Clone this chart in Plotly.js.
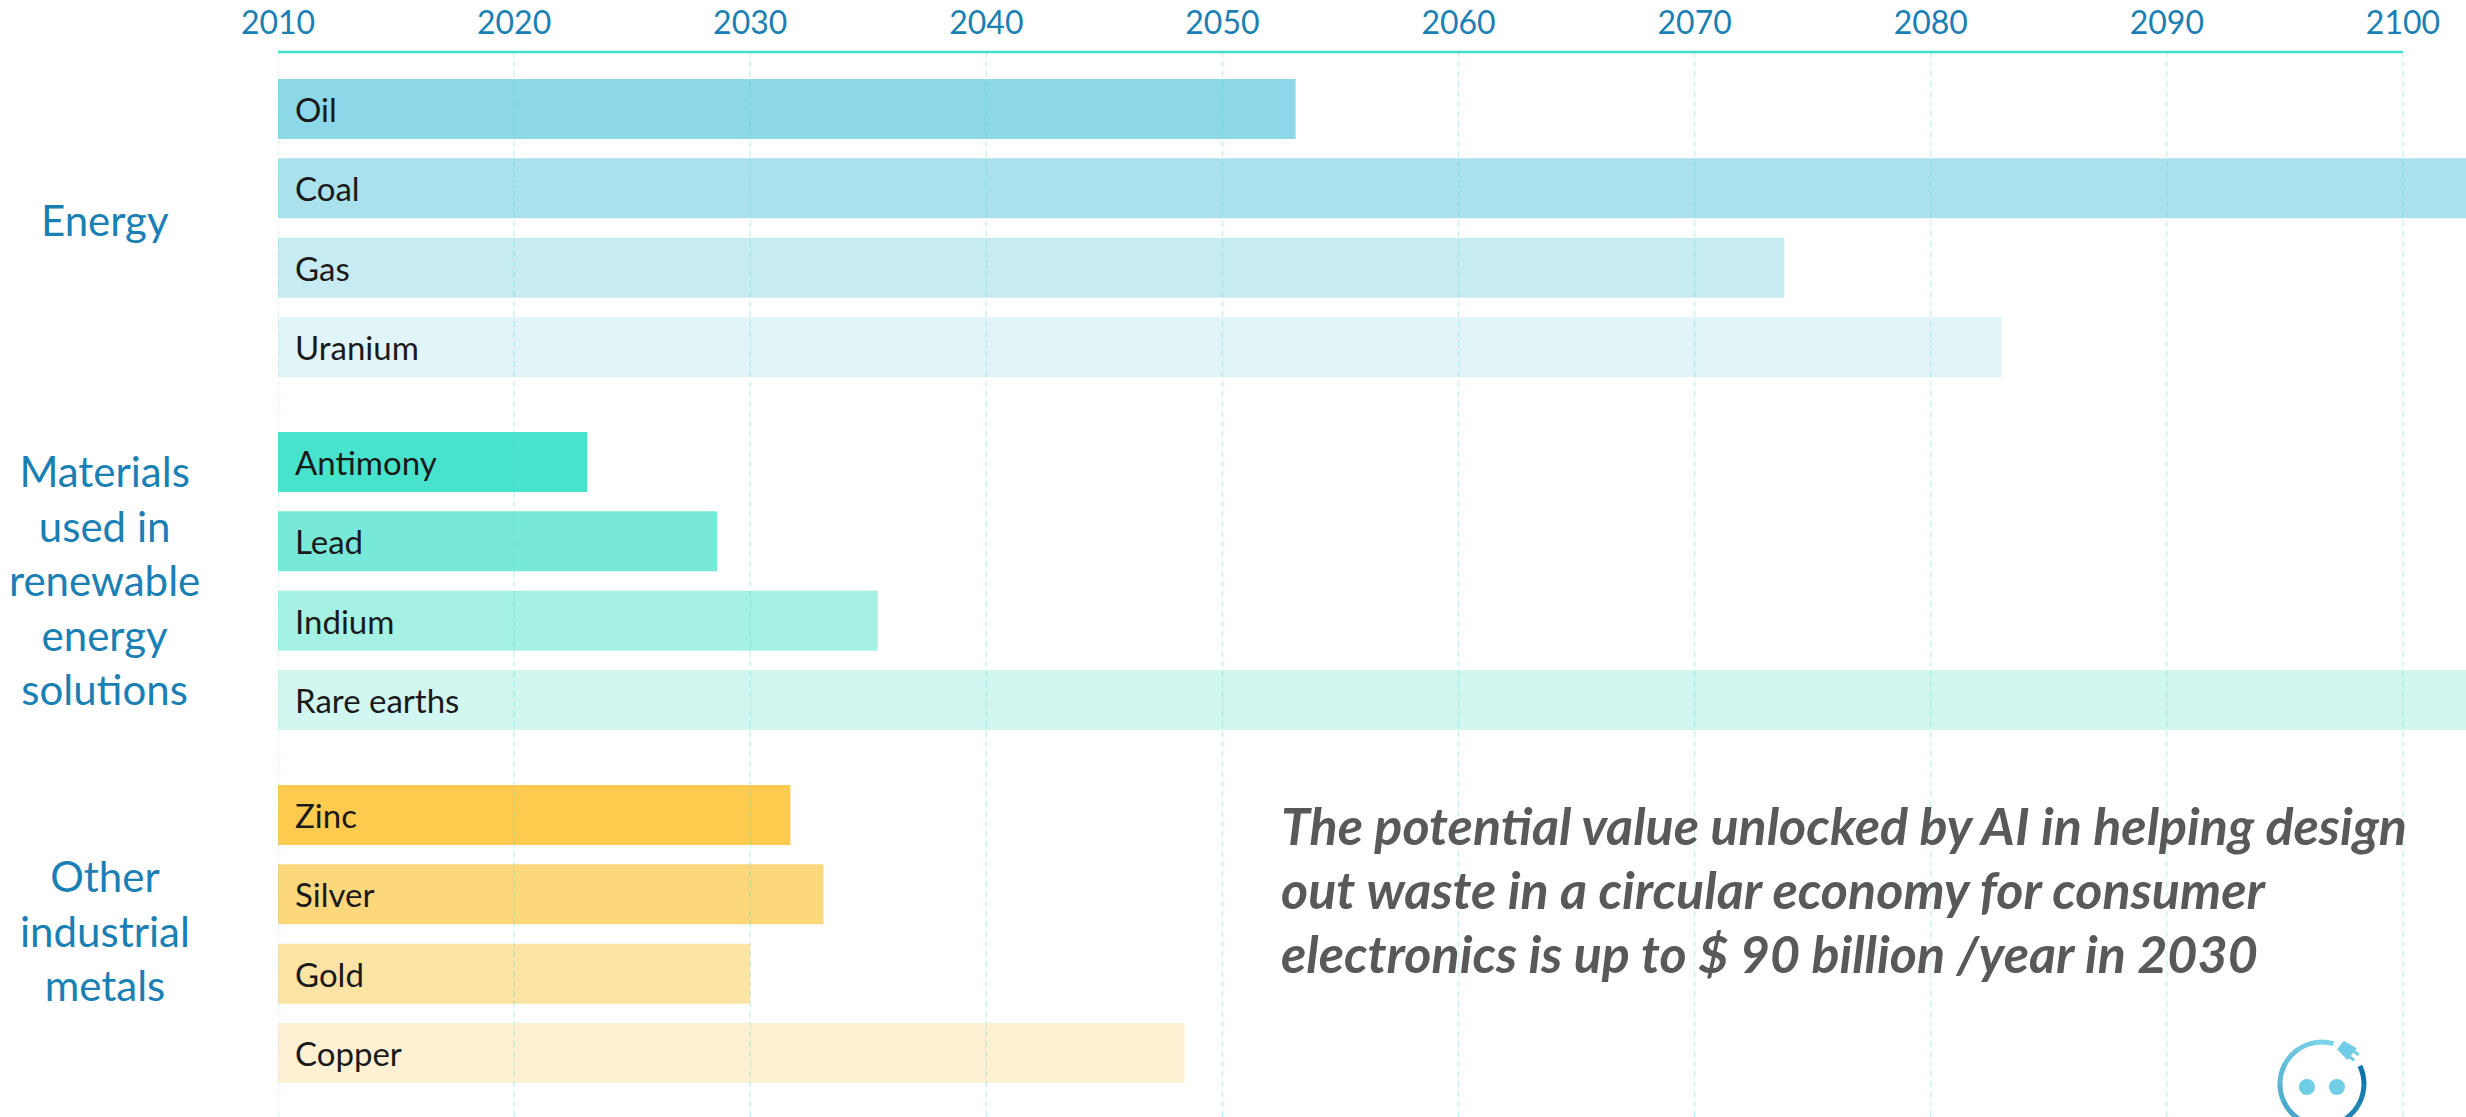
<!DOCTYPE html>
<html>
<head>
<meta charset="utf-8">
<script src="https://cdn.plot.ly/plotly-3.0.1.min.js"></script>
<style>
html,body{margin:0;padding:0;background:#ffffff;overflow:hidden}
#chart{width:2466px;height:1117px}
</style>
</head>
<body>
<div id="chart"></div>
<script>
// ---------- data ----------
const tickYears = [2010, 2020, 2030, 2040, 2050, 2060, 2070, 2080, 2090, 2100];

const energyItems = ['Oil', 'Coal', 'Gas', 'Uranium'];
const energyEnd   = [2053.1, 2110, 2073.8, 2083.0];

const renewItems  = ['Antimony', 'Lead', 'Indium', 'Rare earths'];
const renewEnd    = [2023.1, 2028.6, 2035.4, 2110];

const metalItems  = ['Zinc', 'Silver', 'Gold', 'Copper'];
const metalEnd    = [2031.7, 2033.1, 2030.0, 2048.4];

const groupNames = ['Energy', 'Materials<br>used in<br>renewable<br>energy<br>solutions', 'Other<br>industrial<br>metals'];

const noteLines = [
  'The potential value unlocked by AI in helping design',
  'out waste in a circular economy for consumer',
  'electronics is up to $ 90 billion /year in 2030'
];

// ---------- styles ----------
const energyColors = ['#8cd8e8', '#a9e2ed', '#c6ebf2', '#e1f4f8'];
const renewColors  = ['#48e3cd', '#78e9d8', '#a5f1e4', '#d2f7f1'];
const metalColors  = ['#fecb4f', '#fdd77c', '#fde4a5', '#fef1d3'];

const FONT = 'Lato, "Open Sans", sans-serif';
const BLUE = '#1a80b4';
const baseYear = tickYears[0];

const groups = [
  {items: energyItems, ends: energyEnd, colors: energyColors, axis: 'y',  domain: [0.68575, 0.98373]},
  {items: renewItems,  ends: renewEnd,  colors: renewColors,  axis: 'y2', domain: [0.35430, 0.65227]},
  {items: metalItems,  ends: metalEnd,  colors: metalColors,  axis: 'y3', domain: [0.02285, 0.32082]}
];

const traces = groups.map(g => ({
  type: 'bar',
  orientation: 'h',
  y: g.items,
  x: g.ends.map(v => v - baseYear),
  base: baseYear,
  xaxis: 'x',
  yaxis: g.axis,
  marker: {color: g.colors, line: {width: 0}},
  hoverinfo: 'skip',
  showlegend: false
}));

const annotations = [];
// bar labels
groups.forEach(g => {
  g.items.forEach(name => {
    annotations.push({
      text: name, x: baseYear, xref: 'x', y: name, yref: g.axis,
      xanchor: 'left', yanchor: 'middle', xshift: 15, yshift: 0, showarrow: false,
      font: {family: FONT, size: 33, color: '#1a1a1a'}
    });
  });
});
// group labels
const groupY = [0.84225, 0.50423, 0.17465];
groupNames.forEach((t, i) => {
  annotations.push({
    text: t, xref: 'paper', yref: 'paper', x: -0.0792, y: groupY[i],
    xanchor: 'center', yanchor: 'middle', align: 'center', showarrow: false,
    font: {family: FONT, size: 42, color: BLUE}
  });
});
// note lines
const noteY = [0.27371, 0.21362, 0.15446];
noteLines.forEach((t, i) => {
  annotations.push({
    text: '<b><i>' + t + '</i></b>', xref: 'paper', yref: 'paper', x: 0.4574, y: noteY[i],
    xanchor: 'left', yanchor: 'middle', align: 'left', showarrow: false,
    font: {family: FONT, size: 52, color: '#595959'}
  });
});

// ---------- shapes ----------
const shapes = [];
// dashed gridlines
tickYears.forEach(t => {
  shapes.push({
    type: 'line', xref: 'x', yref: 'paper', x0: t, x1: t, y0: 0, y1: 1,
    line: {color: 'rgba(70,215,205,0.35)', width: 1.2, dash: '6px,4px'}, layer: 'above'
  });
});
// top axis line
shapes.push({
  type: 'line', xref: 'x', yref: 'paper', x0: tickYears[0], x1: tickYears[tickYears.length - 1], y0: 1, y1: 1,
  line: {color: '#3fdfca', width: 2.5}, layer: 'above'
});

// logo (decoration)
const LX = 0.93417, LY = 0.03099, R = 42;
function pt(r, a) { const t = a * Math.PI / 180; return [r * Math.cos(t), r * Math.sin(t)]; }
function arcPath(r, a0, a1) {
  const p0 = pt(r, a0), p1 = pt(r, a1);
  const d = (a1 - a0) * Math.PI / 180, k = 4 / 3 * Math.tan(d / 4);
  const t0 = a0 * Math.PI / 180, t1 = a1 * Math.PI / 180;
  const c1 = [p0[0] - k * r * Math.sin(t0), p0[1] + k * r * Math.cos(t0)];
  const c2 = [p1[0] + k * r * Math.sin(t1), p1[1] - k * r * Math.cos(t1)];
  return `M${p0[0].toFixed(2)},${p0[1].toFixed(2)} C${c1[0].toFixed(2)},${c1[1].toFixed(2)} ${c2[0].toFixed(2)},${c2[1].toFixed(2)} ${p1[0].toFixed(2)},${p1[1].toFixed(2)}`;
}
function mix(c1, c2, f) {
  const a = [1,3,5].map(i => parseInt(c1.substr(i,2),16)), b = [1,3,5].map(i => parseInt(c2.substr(i,2),16));
  return 'rgb(' + a.map((v,i) => Math.round(v + (b[i]-v)*f)).join(',') + ')';
}
const segs = 12, aStart = 74, aEnd = 385;
for (let i = 0; i < segs; i++) {
  const a0 = aStart + (aEnd - aStart) * i / segs, a1 = aStart + (aEnd - aStart) * (i + 1) / segs + 0.5;
  shapes.push({
    type: 'path', xref: 'paper', yref: 'paper', xsizemode: 'pixel', ysizemode: 'pixel',
    xanchor: LX, yanchor: LY, path: arcPath(R, a0, a1),
    line: {color: mix('#7dd4ea', '#0f74a8', i / (segs - 1)), width: 5}, fillcolor: 'rgba(0,0,0,0)'
  });
}
// plug
(function () {
  const ang = 52, c = pt(R, ang);
  const t = [Math.sin(ang * Math.PI / 180), -Math.cos(ang * Math.PI / 180)]; // clockwise tangent
  const n = [Math.cos(ang * Math.PI / 180), Math.sin(ang * Math.PI / 180)];
  const P = (u, v) => [c[0] + t[0] * u + n[0] * v, c[1] + t[1] * u + n[1] * v];
  const body = [P(-9, -5), P(5, -7), P(5, 7), P(-9, 5)];
  shapes.push({
    type: 'path', xref: 'paper', yref: 'paper', xsizemode: 'pixel', ysizemode: 'pixel',
    xanchor: LX, yanchor: LY,
    path: 'M' + body.map(p => p[0].toFixed(2) + ',' + p[1].toFixed(2)).join(' L') + ' Z',
    fillcolor: '#6fcde6', line: {color: '#6fcde6', width: 1}
  });
  [[-3.5], [3.5]].forEach(([v]) => {
    const a = P(5, v), b = P(11, v);
    shapes.push({
      type: 'path', xref: 'paper', yref: 'paper', xsizemode: 'pixel', ysizemode: 'pixel',
      xanchor: LX, yanchor: LY,
      path: `M${a[0].toFixed(2)},${a[1].toFixed(2)} L${b[0].toFixed(2)},${b[1].toFixed(2)}`,
      line: {color: '#6fcde6', width: 3}
    });
  });
})();
// eyes
[-15, 15].forEach(dx => {
  shapes.push({
    type: 'circle', xref: 'paper', yref: 'paper', xsizemode: 'pixel', ysizemode: 'pixel',
    xanchor: LX, yanchor: LY, x0: dx - 8, x1: dx + 8, y0: -11, y1: 5,
    fillcolor: '#6fcde6', line: {width: 0}
  });
});

// ---------- layout ----------
function yAxis(g) {
  return {
    domain: g.domain, anchor: 'x', type: 'category', autorange: 'reversed',
    showticklabels: false, showgrid: false, zeroline: false, showline: false, ticks: '',
    fixedrange: true
  };
}

const layout = {
  width: 2466, height: 1117,
  margin: {l: 278, r: 0, t: 52, b: 0, pad: 0},
  paper_bgcolor: '#ffffff', plot_bgcolor: 'rgba(0,0,0,0)',
  font: {family: FONT},
  bargap: 0.2437,
  showlegend: false,
  xaxis: {
    range: [baseYear, 2102.67], side: 'top', anchor: 'free', position: 1,
    tickvals: tickYears, ticktext: tickYears.map(String), ticks: '',
    tickfont: {family: FONT, size: 32, color: BLUE},
    showgrid: false, zeroline: false, showline: false, ticklabelstandoff: 12,
    fixedrange: true
  },
  yaxis: yAxis(groups[0]),
  yaxis2: yAxis(groups[1]),
  yaxis3: yAxis(groups[2]),
  annotations: annotations,
  shapes: shapes
};

Plotly.newPlot('chart', traces, layout, {displayModeBar: false, staticPlot: true});
</script>
</body>
</html>
